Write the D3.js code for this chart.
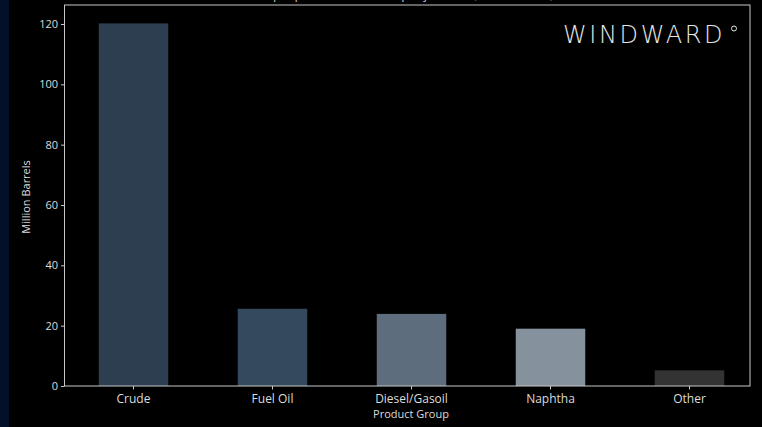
<!DOCTYPE html>
<html><head><meta charset="utf-8">
<script src="https://cdn.jsdelivr.net/npm/d3@7"></script>
<style>
html,body{margin:0;padding:0;background:#000;}
svg{display:block;}
</style></head>
<body>
<svg id="c" width="762" height="427"></svg>
<script>
const categories = ["Crude", "Fuel Oil", "Diesel/Gasoil", "Naphtha", "Other"];
const values = [120.2, 25.6, 23.9, 19.0, 5.2];
const colors = ["#2e3e51", "#34495e", "#5d6d7e", "#85929e", "#333333"];
const yTicks = [0, 20, 40, 60, 80, 100, 120];

(function(){
const svg = d3.select("#c");
const W = 762, H = 427;
svg.append("rect").attr("width", W).attr("height", H).attr("fill", "#000");
svg.append("rect").attr("width", 9).attr("height", H).attr("fill", "#021129");

const pL = 64.5, pR = 750, pT = 5, pB = 386;
const x = d3.scaleBand().domain(categories).range([64, 759]).paddingInner(0.5).paddingOuter(0.25);
const y = d3.scaleLinear().domain([0, 120]).range([pB, 24]);

const font = "'Open Sans', 'DejaVu Sans', sans-serif";
const txt = "#dcdcdc";

// title (mostly clipped at top, as in the reference)
svg.append("text").attr("x", 407).attr("y", -1).attr("text-anchor", "middle")
  .attr("fill", txt).style("font-family", font).style("font-size", "11px")
  .text("Top Exported Product Groups by Volume (Million Barrels)");

// bars
svg.selectAll("rect.bar").data(categories).enter().append("rect")
  .attr("class", "bar")
  .attr("x", d => x(d)).attr("width", x.bandwidth())
  .attr("y", (d, i) => y(values[i])).attr("height", (d, i) => pB - y(values[i]))
  .attr("fill", (d, i) => colors[i]);

// spines
const spine = "#c8c8c8";
svg.append("rect").attr("x", pL).attr("y", pT).attr("width", pR - pL).attr("height", pB - pT)
  .attr("fill", "none").attr("stroke", spine).attr("stroke-width", 1);

// y axis
const ya = svg.append("g").attr("transform", `translate(${pL},0)`)
  .call(d3.axisLeft(y).tickValues(yTicks).tickSize(3.5).tickPadding(3));
ya.select(".domain").remove();
ya.selectAll("line").attr("stroke", spine);
ya.selectAll("text").attr("fill", txt).style("font-family", font).style("font-size", "11px");

// x axis
const xa = svg.append("g").attr("transform", `translate(0,${pB})`)
  .call(d3.axisBottom(x).tickSize(3.5).tickPadding(4.5));
xa.select(".domain").remove();
xa.selectAll("line").attr("stroke", spine);
xa.selectAll("text").attr("fill", txt).style("font-family", font).style("font-size", "12px");

// axis labels
svg.append("text").attr("x", 411).attr("y", 418).attr("text-anchor", "middle")
  .attr("fill", txt).style("font-family", font).style("font-size", "11px").text("Product Group");
svg.append("text").attr("transform", "translate(30,197) rotate(-90)").attr("text-anchor", "middle")
  .attr("fill", txt).style("font-family", font).style("font-size", "11px").text("Million Barrels");

// logo
svg.append("text").attr("x", 563).attr("y", 43).attr("fill", "#e6e6e6")
  .style("font-family", "'DejaVu Sans', sans-serif").style("font-weight", "200")
  .style("font-size", "24px").style("letter-spacing", "2.6px").text("WINDWARD");
svg.append("circle").attr("cx", 734).attr("cy", 28.5).attr("r", 2.5)
  .attr("fill", "none").attr("stroke", "#e6e6e6").attr("stroke-width", 1);
})();
</script>
</body></html>
